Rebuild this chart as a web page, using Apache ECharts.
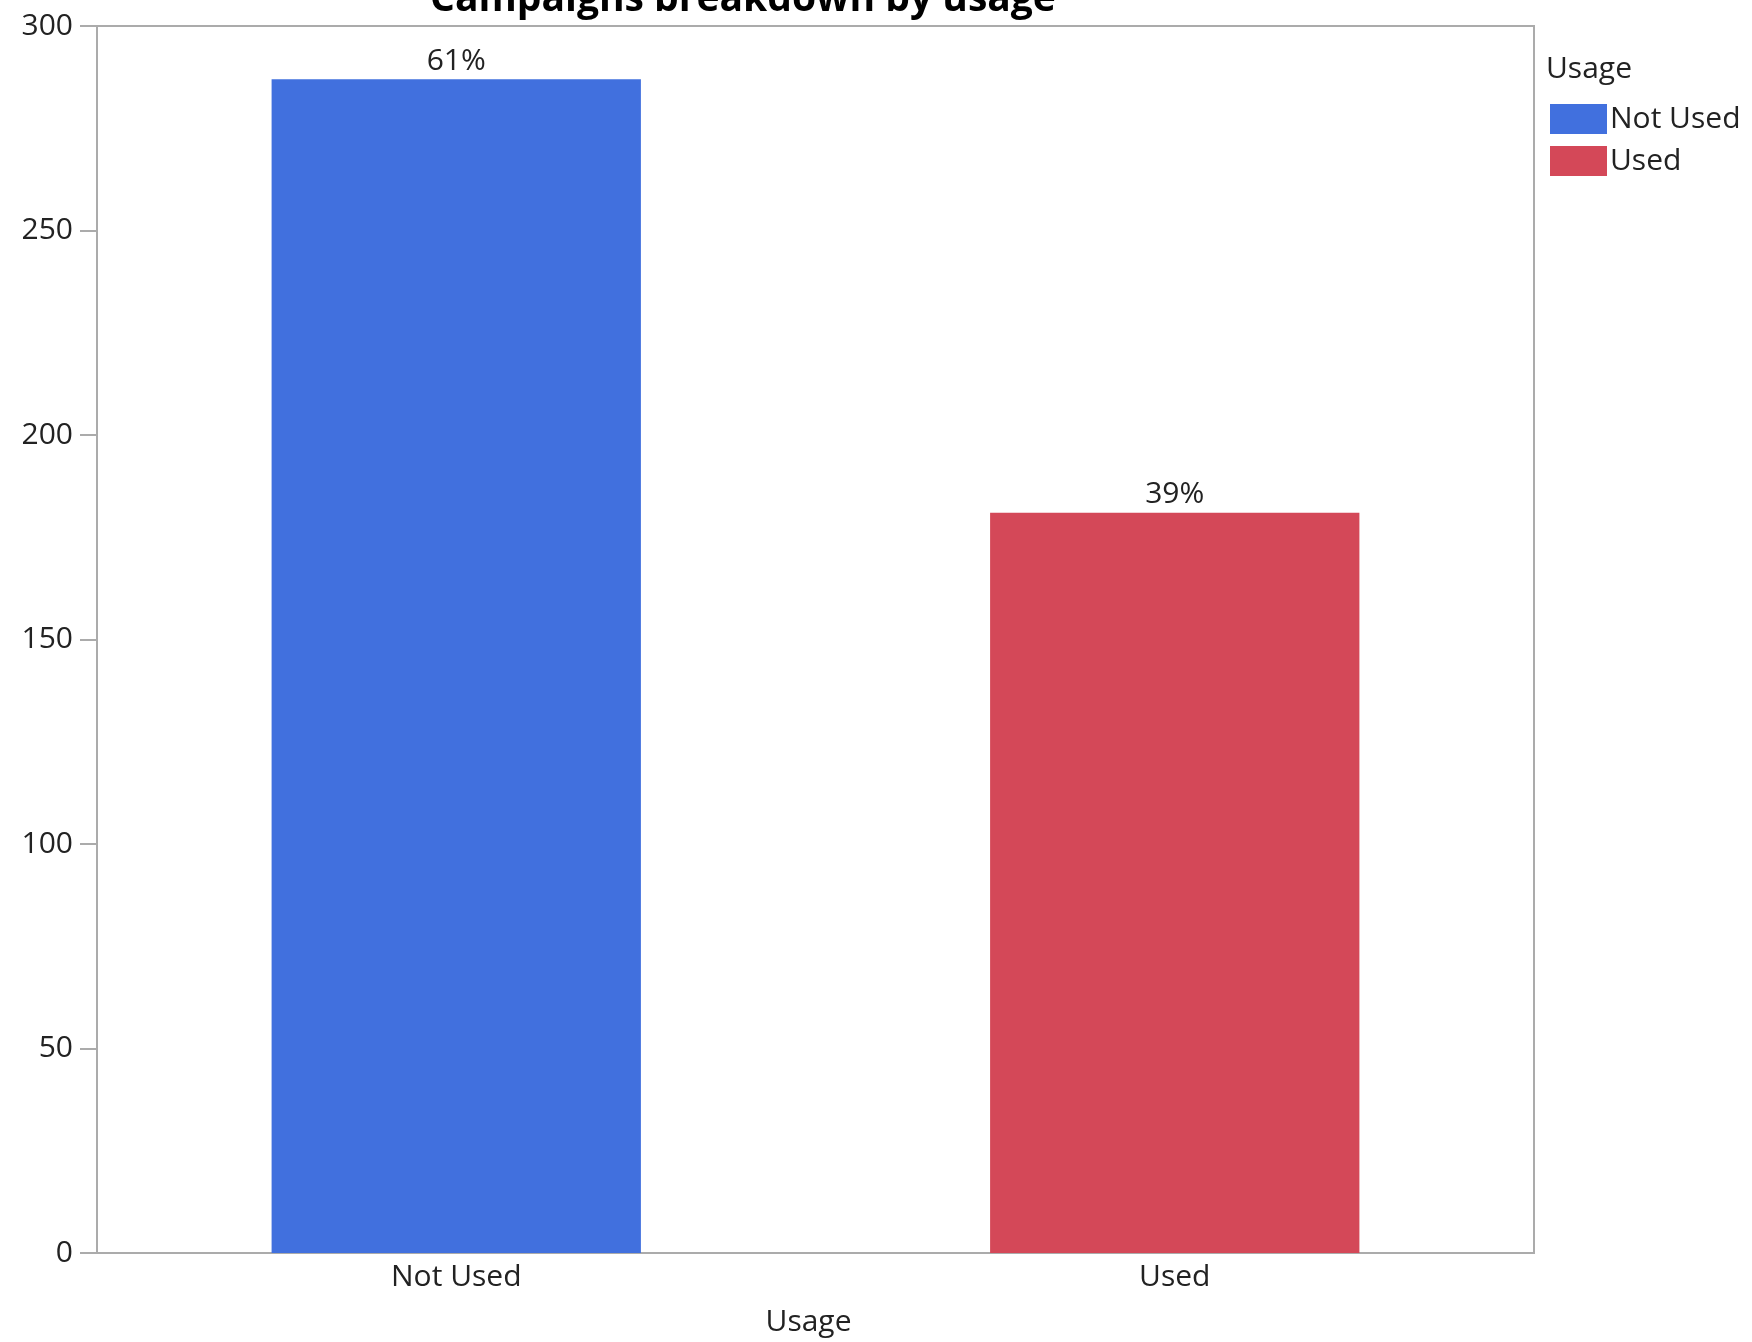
<!DOCTYPE html>
<html>
<head>
<meta charset="utf-8">
<title>Campaigns breakdown by usage</title>
<script src="https://cdn.jsdelivr.net/npm/echarts@6/dist/echarts.min.js"></script>
<style>
  html, body { margin: 0; padding: 0; background: #fff; }
  #chart { width: 1752px; height: 1342px; }
</style>
</head>
<body>
<div id="chart"></div>
<script>
// Campaign counts split by usage status
const categories = ['Not Used', 'Used'];
const counts = [287, 181];
const colors = ['#4170de', '#d44858'];
const yTicks = { min: 0, max: 300, interval: 50 };

const total = counts.reduce((a, b) => a + b, 0);
const FONT = "'Open Sans', 'Noto Sans', sans-serif";

// One series per category so each gets its own legend entry and colour
const series = categories.map((name, i) => ({
  name: name,
  type: 'bar',
  stack: 'usage',
  barWidth: '51.4%',
  itemStyle: { color: colors[i] },
  label: {
    show: true,
    position: 'top',
    distance: 3,
    color: '#222',
    fontFamily: FONT,
    fontSize: 30,
    formatter: p => Math.round(p.value / total * 100) + '%'
  },
  data: categories.map((c, j) => (j === i ? counts[j] : '-'))
}));

const chart = echarts.init(document.getElementById('chart'), null, { renderer: 'canvas' });
chart.setOption({
  animation: false,
  backgroundColor: '#fff',
  title: [
    {
      text: 'Campaigns breakdown by usage',
      left: 738,
      textAlign: 'center',
      top: -25,
      textStyle: { fontFamily: FONT, fontWeight: 'bold', fontSize: 39, color: '#000' }
    },
    {
      text: 'Usage',
      left: 1546,
      top: 54,
      padding: 0,
      textStyle: { fontFamily: FONT, fontWeight: 'normal', fontSize: 30, color: '#222' }
    }
  ],
  legend: {
    orient: 'vertical',
    left: 1550,
    top: 104,
    padding: 0,
    itemWidth: 57,
    itemHeight: 30,
    itemGap: 12,
    icon: 'rect',
    selectedMode: false,
    textStyle: { fontFamily: FONT, fontSize: 30, color: '#222', padding: [0, 0, 0, -2] },
    data: categories
  },
  grid: {
    left: 97,
    right: 218,
    top: 26,
    bottom: 88,
    show: true,
    borderColor: '#ababab',
    borderWidth: 2
  },
  xAxis: {
    type: 'category',
    data: categories,
    name: 'Usage',
    nameLocation: 'middle',
    nameGap: 54,
    nameTextStyle: { fontFamily: FONT, fontSize: 30, color: '#222', padding: [0, 14, 0, 0] },
    axisLine: { lineStyle: { color: '#ababab', width: 2 } },
    axisTick: { show: false },
    axisLabel: { fontFamily: FONT, fontSize: 30, color: '#222', margin: 9 }
  },
  yAxis: {
    type: 'value',
    min: yTicks.min,
    max: yTicks.max,
    interval: yTicks.interval,
    axisLine: { show: true, lineStyle: { color: '#ababab', width: 2 } },
    axisTick: { show: true, length: 17, lineStyle: { color: '#ababab', width: 2 } },
    splitLine: { show: false },
    axisLabel: { fontFamily: FONT, fontSize: 30, color: '#222', margin: 24 }
  },
  series: series
});
</script>
</body>
</html>
